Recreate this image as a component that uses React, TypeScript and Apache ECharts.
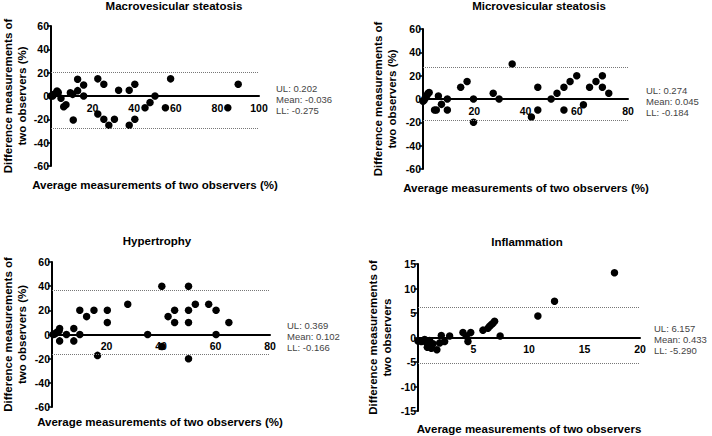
import React, { useEffect, useRef } from "react";
import * as echarts from "echarts";

const FONT = "Arial, 'Liberation Sans', sans-serif";

const panelTitles = ["Macrovesicular steatosis", "Microvesicular steatosis", "Hypertrophy", "Inflammation"];
const xTitles = [
  "Average measurements of two observers (%)",
  "Average measurements of two observers (%)",
  "Average measurements of two observers (%)",
  "Average measurements of two observers",
];
const yTitles = [
  "Difference measurements of\ntwo observers (%)",
  "Difference measurements of\ntwo observers (%)",
  "Difference measurements of\ntwo observers (%)",
  "Difference measurements of\ntwo observers",
];
const statLines = [
  ["UL: 0.202", "Mean: -0.036", "LL: -0.275"],
  ["UL: 0.274", "Mean: 0.045", "LL: -0.184"],
  ["UL: 0.369", "Mean: 0.102", "LL: -0.166"],
  ["UL: 6.157", "Mean: 0.433", "LL: -5.290"],
];
const upperLimits = [20.2, 27.4, 36.9, 6.157];
const lowerLimits = [-27.5, -18.4, -16.6, -5.29];
const xMax = [100, 80, 80, 20];
const xStep = [20, 20, 20, 5];
const yMax = [60, 60, 60, 15];
const yStep = [20, 20, 20, 5];

const macroData = [
  [0, 0], [0.8, 0], [1.5, 1.5], [2.5, 2.5], [2.9, 4.3], [3.5, 3], [4.8, -2], [6.1, -9.2], [7.2, -7.6],
  [9.3, 2.8], [10.4, 1.4], [10.7, -20.5], [12.8, 14.4], [12.8, 4.6], [15.7, 9.5], [15.7, 0],
  [22.5, 14.7], [22.5, -15.5], [25.4, 10], [25.4, -20], [27.8, -25], [30.5, -20], [32.5, 5],
  [37.6, 5], [37.6, -25], [40.3, 10], [40.3, -20], [45.2, -10], [47.6, -5.5], [50, 0], [55, -10],
  [57.5, 14.7], [85, -10], [90, 10],
];
const microData = [
  [0, -2], [0.4, -1], [0.8, 0.5], [1.2, 2], [1.6, 3.5], [2, 5], [2.4, 5.5], [4.5, -9.5], [5.2, -9.5],
  [6, 2.6], [7.2, -4.6], [9.5, 0], [9.5, -9.5], [14.7, 10], [17.2, 15], [19.7, 0], [19.7, -20],
  [27.4, 5], [29.7, 0], [34.8, 30], [42.3, -15.5], [44.8, 10], [44.8, -9.5], [50, 0], [52.3, 5],
  [55, 10], [55, -9.5], [57.4, 15], [60, 20], [62.6, -5], [65, 10], [67.5, 15], [70, 20], [70, 10],
  [72.5, 5],
];
const hyperData = [
  [0.4, 0], [1, 0.5], [1.6, 1.4], [2.2, 2.5], [2.8, 5], [2.6, 3], [2.8, -5.3], [5.3, 0], [8, 5],
  [8, -5.3], [10.2, 20], [10.2, 0], [12.7, 14.8], [15.4, 20], [16.7, -17.3], [20.3, 20], [20.3, 10],
  [27.8, 25], [35.1, 0], [40.3, 40], [40.3, -10], [42.6, 14.8], [45, 20], [45, 10], [50.1, 40],
  [50.1, 20], [50.1, 10], [50.1, -20], [52.6, 25], [57.5, 25], [60.2, 20], [60.2, 0], [64.9, 10],
];
const inflamData = [
  [0, -0.7], [0.3, -0.8], [0.45, -0.6], [0.6, -0.4], [0.75, -1], [0.84, -2], [1, -1.5], [1.05, -0.6],
  [1.2, -2.2], [1.35, -1.3], [1.7, -2.5], [1.95, -1.1], [2.1, 0.4], [2.4, -0.8], [2.85, 0.3],
  [4.05, 1], [4.35, 0.3], [4.5, -0.8], [4.75, 1], [5.85, 1.5], [6.3, 1.9], [6.45, 2.3], [6.6, 2.6],
  [6.75, 2.9], [6.9, 3.3], [7.4, 0.3], [10.8, 4.4], [12.3, 7.4], [17.7, 13.2],
];
const panelData = [macroData, microData, hyperData, inflamData];

// layout (pixels)
const grids = [
  { left: 50, top: 26, width: 209, height: 140 },
  { left: 423, top: 29, width: 205, height: 140 },
  { left: 52, top: 262, width: 218, height: 145 },
  { left: 418, top: 264, width: 222, height: 147 },
];
const titlePos = [[174, 6], [539, 6], [157, 241], [527, 242]];
const xTitlePos = [[155, 185], [526, 188], [160, 422], [529, 429]];
const statPos = [[276, 88], [646, 90], [287, 325], [654, 328]];
const yNameGap = [22, 24, 23, 24];

export default function App() {
  const ref = useRef<HTMLDivElement>(null);
  useEffect(() => {
    if (!ref.current) return;
    const chart = echarts.init(ref.current, undefined, { renderer: "svg" });
    const xAxis: any[] = [];
    const yAxis: any[] = [];
    const series: any[] = [];
    const graphic: any[] = [];
    for (let i = 0; i < 4; i++) {
      xAxis.push({
        type: "value",
        gridIndex: i,
        position: "bottom",
        // the y range is symmetric, so the zero line sits at the middle of the grid
        offset: -grids[i].height / 2,
        min: 0,
        max: xMax[i],
        interval: xStep[i],
        splitLine: { show: false },
        axisLine: { onZero: false, lineStyle: { color: "#000", width: 2 } },
        axisTick: { show: false },
        axisLabel: {
          showMinLabel: false,
          margin: 6,
          color: "#000",
          fontWeight: "bold",
          fontSize: 10.5,
          fontFamily: FONT,
        },
      });
      yAxis.push({
        type: "value",
        gridIndex: i,
        min: -yMax[i],
        max: yMax[i],
        interval: yStep[i],
        splitLine: { show: false },
        axisLine: { show: true, onZero: false, lineStyle: { color: "#000", width: 2 } },
        axisTick: { show: true, length: 4, lineStyle: { color: "#000", width: 1.5 } },
        axisLabel: { margin: 2, color: "#000", fontWeight: "bold", fontSize: 10.5, fontFamily: FONT },
        name: yTitles[i],
        nameLocation: "middle",
        nameRotate: 90,
        nameGap: yNameGap[i],
        nameTextStyle: { color: "#000", fontWeight: "bold", fontSize: 11.5, fontFamily: FONT, lineHeight: 14 },
      });
      series.push({
        type: "scatter",
        xAxisIndex: i,
        yAxisIndex: i,
        data: panelData[i],
        symbolSize: 7.5,
        clip: false,
        itemStyle: { color: "#000", opacity: 1 },
        markLine: {
          silent: true,
          symbol: "none",
          label: { show: false },
          lineStyle: { color: "#777", type: "dotted", width: 1 },
          data: [{ yAxis: upperLimits[i] }, { yAxis: lowerLimits[i] }],
        },
      });
      graphic.push({
        type: "text",
        x: titlePos[i][0],
        y: titlePos[i][1],
        style: {
          text: panelTitles[i],
          font: `bold 11.5px ${FONT}`,
          fill: "#000",
          textAlign: "center",
          textVerticalAlign: "middle",
        },
      });
      graphic.push({
        type: "text",
        x: xTitlePos[i][0],
        y: xTitlePos[i][1],
        style: {
          text: xTitles[i],
          font: `bold 11.5px ${FONT}`,
          fill: "#000",
          textAlign: "center",
          textVerticalAlign: "middle",
        },
      });
      statLines[i].forEach((t, k) => {
        graphic.push({
          type: "text",
          x: statPos[i][0],
          y: statPos[i][1] + k * 11,
          style: {
            text: t,
            font: `9.5px ${FONT}`,
            fill: "#444",
            textAlign: "left",
            textVerticalAlign: "middle",
          },
        });
      });
    }
    chart.setOption({
      animation: false,
      backgroundColor: "#fff",
      grid: grids.map((g) => ({ ...g, containLabel: false })),
      xAxis,
      yAxis,
      series,
      graphic,
    });
    return () => chart.dispose();
  }, []);
  return (
    <div
      ref={ref}
      style={{ position: "fixed", left: 0, top: 0, width: 712, height: 436, background: "#fff" }}
    />
  );
}
